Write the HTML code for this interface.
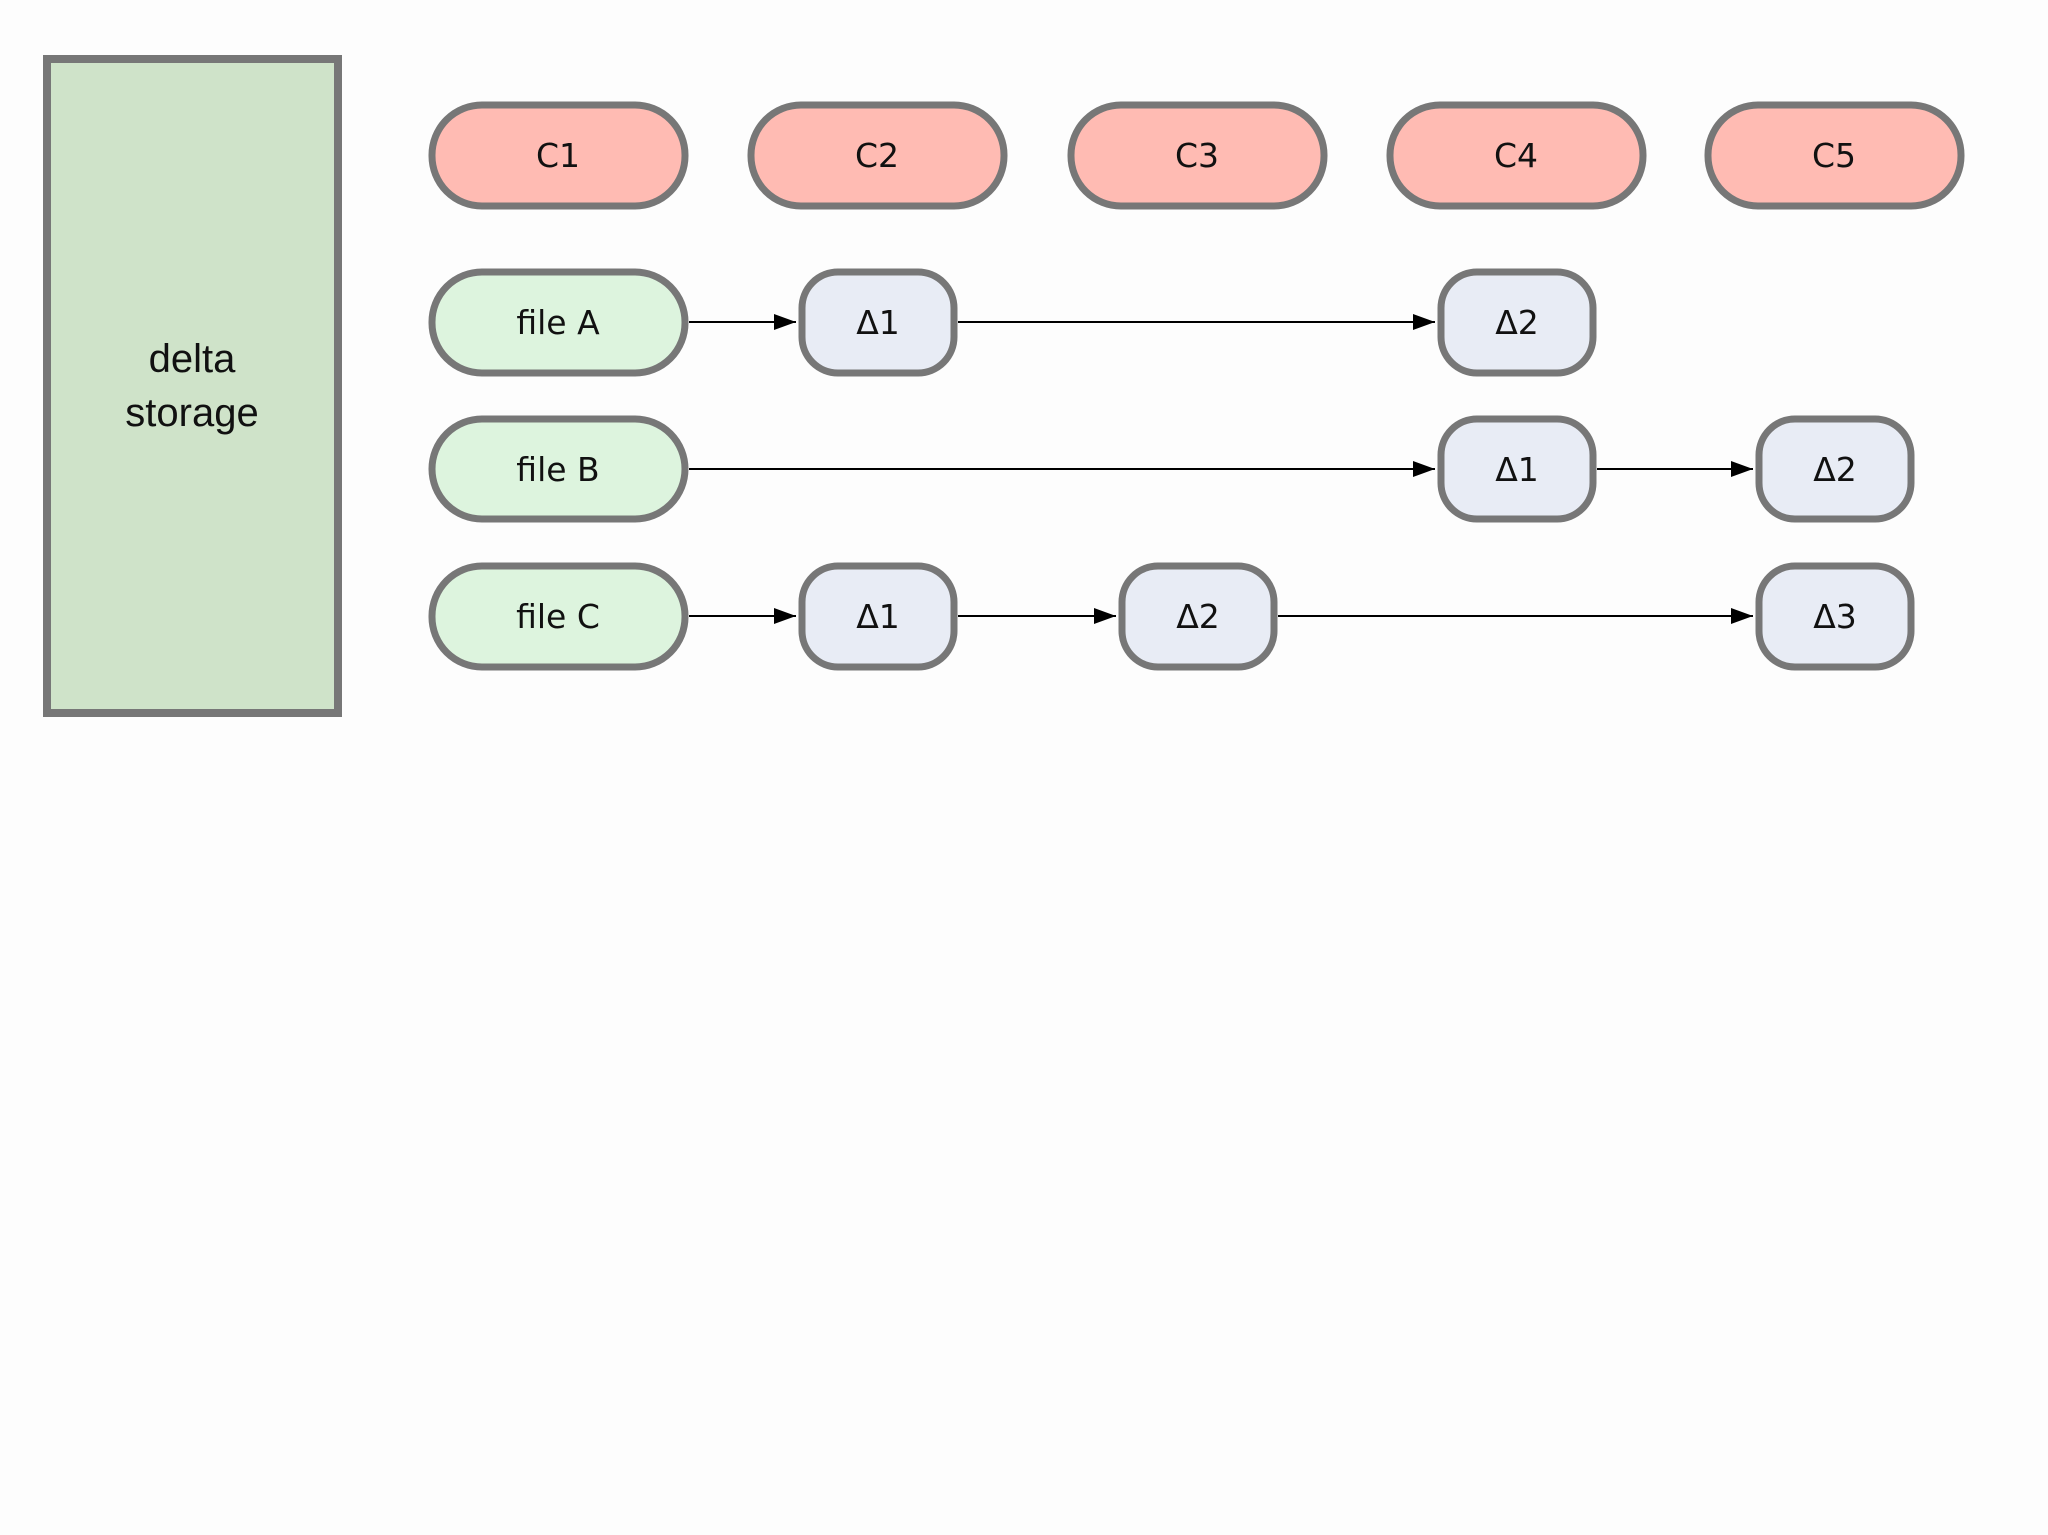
<!DOCTYPE html>
<html><head><meta charset="utf-8"><style>html,body{margin:0;padding:0;background:#fdfdfd}svg{display:block}</style></head>
<body>
<svg width="2048" height="1535" viewBox="0 0 2048 1535" xmlns="http://www.w3.org/2000/svg">
<defs>
<marker id="ah" markerWidth="22" markerHeight="16" refX="22" refY="8" orient="auto" markerUnits="userSpaceOnUse">
<path d="M0,0 L22,8 L0,16 Z" fill="#000"/>
</marker>
</defs>
<rect x="0" y="0" width="2048" height="1535" fill="#fdfdfd"/>
<rect x="47" y="59" width="291" height="654" fill="#cfe3c9" stroke="#777" stroke-width="8"/>
<g font-family="Liberation Sans, sans-serif" font-size="40" fill="#111" text-anchor="middle">
<text x="192" y="372">delta</text>
<text x="192" y="426">storage</text>
</g>
<g stroke="#777" stroke-width="7" fill="#ffbbb3">
<rect x="432" y="105" width="253" height="101" rx="50"/>
<rect x="751" y="105" width="253" height="101" rx="50"/>
<rect x="1071" y="105" width="253" height="101" rx="50"/>
<rect x="1390" y="105" width="253" height="101" rx="50"/>
<rect x="1708" y="105" width="253" height="101" rx="50"/>
</g>
<g stroke="#777" stroke-width="7" fill="#ddf4de">
<rect x="432" y="272" width="253" height="101" rx="50"/>
<rect x="432" y="419" width="253" height="100" rx="50"/>
<rect x="432" y="566" width="253" height="101" rx="50"/>
</g>
<g stroke="#777" stroke-width="7" fill="#e8ecf5">
<rect x="802" y="272" width="152" height="101" rx="36"/>
<rect x="1441" y="272" width="152" height="101" rx="36"/>
<rect x="1441" y="419" width="152" height="100" rx="36"/>
<rect x="1759" y="419" width="152" height="100" rx="36"/>
<rect x="802" y="566" width="152" height="101" rx="36"/>
<rect x="1122" y="566" width="152" height="101" rx="36"/>
<rect x="1759" y="566" width="152" height="101" rx="36"/>
</g>
<g stroke="#000" stroke-width="2" marker-end="url(#ah)">
<line x1="689" y1="322" x2="796" y2="322"/>
<line x1="958" y1="322" x2="1435" y2="322"/>
<line x1="689" y1="469" x2="1435" y2="469"/>
<line x1="1597" y1="469" x2="1753" y2="469"/>
<line x1="689" y1="616" x2="796" y2="616"/>
<line x1="958" y1="616" x2="1116" y2="616"/>
<line x1="1278" y1="616" x2="1753" y2="616"/>
</g>
<g font-family="DejaVu Sans, Liberation Sans, sans-serif" font-size="33" fill="#111" text-anchor="middle">
<text x="558" y="167">C1</text>
<text x="877" y="167">C2</text>
<text x="1197" y="167">C3</text>
<text x="1516" y="167">C4</text>
<text x="1834" y="167">C5</text>
<text x="558" y="334">file A</text>
<text x="558" y="481">file B</text>
<text x="558" y="628">file C</text>
<text x="878" y="334">Δ1</text>
<text x="1517" y="334">Δ2</text>
<text x="1517" y="481">Δ1</text>
<text x="1835" y="481">Δ2</text>
<text x="878" y="628">Δ1</text>
<text x="1198" y="628">Δ2</text>
<text x="1835" y="628">Δ3</text>
</g>
</svg>
</body></html>
